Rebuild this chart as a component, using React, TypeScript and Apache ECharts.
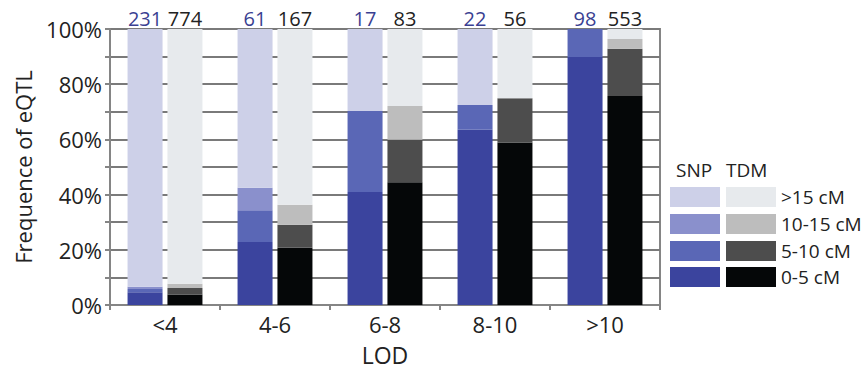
import React, { useEffect, useRef } from "react";
import * as echarts from "echarts";

const categories = ["<4", "4-6", "6-8", "8-10", ">10"];
const yTicks = [0, 20, 40, 60, 80, 100];

const snp0to5 = [4.6, 22.8, 40.9, 63.5, 89.9];
const snp5to10 = [1.2, 11.5, 29.4, 9.0, 10.1];
const snp10to15 = [0.8, 8.2, 0, 0, 0];
const snpOver15 = [93.4, 57.5, 29.7, 27.5, 0];

const tdm0to5 = [3.8, 20.7, 44.5, 58.9, 75.7];
const tdm5to10 = [2.4, 8.4, 15.4, 16.0, 17.1];
const tdm10to15 = [1.5, 7.2, 12.2, 0, 3.6];
const tdmOver15 = [92.3, 63.7, 27.9, 25.1, 3.6];

const snpCounts = [231, 61, 17, 22, 98];
const tdmCounts = [774, 167, 83, 56, 553];

const bandNames = ["0-5 cM", "5-10 cM", "10-15 cM", ">15 cM"];
const snpColors = ["#3b449e", "#5a67b6", "#8a90cc", "#cdd0e8"];
const tdmColors = ["#050708", "#4d4d4d", "#bdbdbd", "#e7eaed"];

const FONT = "Open Sans";

export default function App() {
  const ref = useRef<HTMLDivElement>(null);
  useEffect(() => {
    document.body.style.margin = "0";
    const chart = echarts.init(ref.current!, null, { renderer: "svg" });
    const snpData = [snp0to5, snp5to10, snp10to15, snpOver15];
    const tdmData = [tdm0to5, tdm5to10, tdm10to15, tdmOver15];
    const series: any[] = [];
    bandNames.forEach((b, i) => {
      series.push({
        name: "SNP " + b,
        type: "bar",
        stack: "SNP",
        barWidth: 35,
        barGap: "14%",
        data: snpData[i],
        itemStyle: { color: snpColors[i] },
        label:
          i === 3
            ? {
                show: true,
                position: "top",
                distance: 1,
                formatter: (p: any) => String(snpCounts[p.dataIndex]),
                color: "#3a3f92",
                fontSize: 20,
                fontFamily: FONT,
              }
            : { show: false },
      });
    });
    bandNames.forEach((b, i) => {
      series.push({
        name: "TDM " + b,
        type: "bar",
        stack: "TDM",
        barWidth: 35,
        barGap: "14%",
        data: tdmData[i],
        itemStyle: { color: tdmColors[i] },
        label:
          i === 3
            ? {
                show: true,
                position: "top",
                distance: 1,
                formatter: (p: any) => String(tdmCounts[p.dataIndex]),
                color: "#222",
                fontSize: 20,
                fontFamily: FONT,
              }
            : { show: false },
      });
    });

    const graphics: any[] = [];
    const sx = 670, tx = 726, w = 50, h = 20;
    const rowsY = [267, 241, 214, 187];
    graphics.push({
      type: "text", left: 676, top: 160,
      style: { text: "SNP", fill: "#222", font: `19px "${FONT}"` },
    });
    graphics.push({
      type: "text", left: 726, top: 160,
      style: { text: "TDM", fill: "#222", font: `19px "${FONT}"` },
    });
    bandNames.forEach((b, i) => {
      graphics.push({
        type: "rect", shape: { x: sx, y: rowsY[i], width: w, height: h },
        style: { fill: snpColors[i] },
      });
      graphics.push({
        type: "rect", shape: { x: tx, y: rowsY[i], width: w, height: h },
        style: { fill: tdmColors[i] },
      });
      graphics.push({
        type: "text", x: 781, y: rowsY[i] + h / 2,
        style: { text: b, fill: "#222", font: `19px "${FONT}"`, verticalAlign: "middle" },
      });
    });

    chart.setOption({
      animation: false,
      textStyle: { fontFamily: FONT },
      grid: {
        left: 110, right: 203, top: 29, bottom: 64,
        show: true, borderColor: "#858585", borderWidth: 2,
      },
      xAxis: {
        type: "category",
        data: categories,
        name: "LOD",
        nameLocation: "middle",
        nameGap: 38,
        nameTextStyle: { fontSize: 23, color: "#222", fontFamily: FONT },
        axisLine: { lineStyle: { color: "#858585", width: 2 } },
        axisTick: { show: true, length: 5, lineStyle: { color: "#858585", width: 2 } },
        axisLabel: { fontSize: 22, color: "#222", margin: 8, fontFamily: FONT },
      },
      yAxis: {
        type: "value",
        min: 0, max: 100, interval: 10,
        name: "Frequence of eQTL",
        nameLocation: "middle",
        nameGap: 76,
        nameTextStyle: { fontSize: 22, color: "#222", fontFamily: FONT },
        axisLine: { show: true, lineStyle: { color: "#858585", width: 2 } },
        axisTick: { show: true, length: 5, lineStyle: { color: "#858585", width: 2 } },
        splitLine: { show: true, lineStyle: { color: "#7a7a7a", width: 2 } },
        axisLabel: {
          fontSize: 22, color: "#222", margin: 8, fontFamily: FONT,
          formatter: (v: number) => (yTicks.includes(v) ? v + "%" : ""),
        },
      },
      series,
      graphic: graphics,
    });
    return () => chart.dispose();
  }, []);
  return <div ref={ref} style={{ width: 863, height: 371 }} />;
}
